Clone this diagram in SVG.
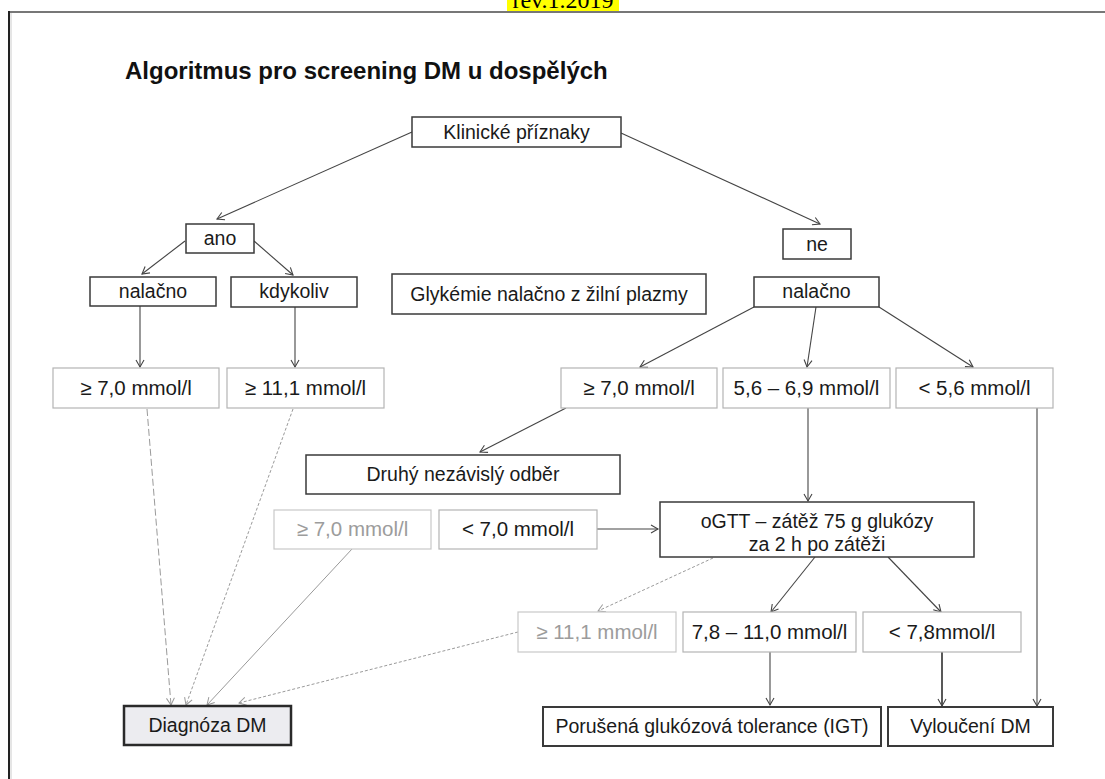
<svg xmlns="http://www.w3.org/2000/svg" width="1105" height="779" viewBox="0 0 1105 779">
<defs>
<style>
text{font-family:"Liberation Sans",Arial,sans-serif;font-size:19.5px;fill:#1a1a1a;text-anchor:middle}
.num{font-size:20.5px}
.faintt{fill:#9c9c9c}
.dark{fill:#fff;stroke:#3a3a3a;stroke-width:1.5}
.light{fill:#fff;stroke:#b4b4b4;stroke-width:1.2}
.faint{fill:#fff;stroke:#c8c8c8;stroke-width:1.2}
.diag{fill:#ececf0;stroke:#2a2a2a;stroke-width:2.5}
.ln{fill:none;stroke:#444;stroke-width:1.1}
.lnd{fill:none;stroke:#222;stroke-width:1.5}
.g1{fill:none;stroke:#9a9a9a;stroke-width:1;stroke-dasharray:7,3}
.g2{fill:none;stroke:#9a9a9a;stroke-width:1;stroke-dasharray:3,2}
.g3{fill:none;stroke:#999;stroke-width:1}
</style>
<marker id="ah" markerWidth="10" markerHeight="10" refX="8" refY="5" orient="auto" markerUnits="userSpaceOnUse">
<path d="M1,1 L8,5 L1,9" fill="none" stroke="#444" stroke-width="1.1"/>
</marker>
<marker id="ahg" markerWidth="10" markerHeight="10" refX="8" refY="5" orient="auto" markerUnits="userSpaceOnUse">
<path d="M1,1 L8,5 L1,9" fill="none" stroke="#9a9a9a" stroke-width="1"/>
</marker>
</defs>
<rect width="1105" height="779" fill="#fff"/>
<g id="frame">
<rect x="507" y="0" width="112" height="11" fill="#ffff00"/>
<text x="563" y="8" style="font-family:'Liberation Serif',serif;font-size:24px;fill:#000">rev.1.2019</text>
<line x1="8" y1="12" x2="1105" y2="12" stroke="#777" stroke-width="2"/>
<line x1="9" y1="11" x2="9" y2="779" stroke="#222" stroke-width="2"/>
<line x1="11" y1="13" x2="11" y2="779" stroke="#ccc" stroke-width="1"/>
</g>
<g id="title"><text x="125" y="79" style="text-anchor:start;font-weight:bold;font-size:24px;fill:#111">Algoritmus pro screening DM u dospělých</text></g>
<g id="connectors">
<line class="ln" x1="412" y1="132" x2="217" y2="219" marker-end="url(#ah)"/>
<line class="ln" x1="621" y1="133" x2="820" y2="224" marker-end="url(#ah)"/>
<line class="ln" x1="185" y1="241" x2="142" y2="274" marker-end="url(#ah)"/>
<line class="ln" x1="254" y1="241" x2="293" y2="275" marker-end="url(#ah)"/>
<line class="ln" x1="140" y1="306" x2="140" y2="367" marker-end="url(#ah)"/>
<line class="ln" x1="295" y1="307" x2="295" y2="367" marker-end="url(#ah)"/>
<line class="ln" x1="754" y1="307" x2="640" y2="367" marker-end="url(#ah)"/>
<line class="ln" x1="816" y1="307" x2="807" y2="367" marker-end="url(#ah)"/>
<line class="ln" x1="879" y1="307" x2="973" y2="367" marker-end="url(#ah)"/>
<line class="ln" x1="566" y1="408" x2="480" y2="452" marker-end="url(#ah)"/>
<line class="ln" x1="808" y1="408" x2="808" y2="501" marker-end="url(#ah)"/>
<line class="ln" x1="597" y1="529" x2="658" y2="529" marker-end="url(#ah)"/>
<line class="ln" x1="815" y1="557" x2="771" y2="612" marker-end="url(#ah)"/>
<line class="ln" x1="888" y1="557" x2="941" y2="612" marker-end="url(#ah)"/>
<line class="ln" x1="770" y1="652" x2="770" y2="705" marker-end="url(#ah)"/>
<line class="lnd" x1="942" y1="652" x2="942" y2="706" marker-end="url(#ah)"/>
<line class="ln" x1="1037" y1="408" x2="1037" y2="706" marker-end="url(#ah)"/>
<line class="g2" x1="713" y1="558" x2="598" y2="611" marker-end="url(#ahg)"/>
<line class="g1" x1="147" y1="409" x2="171" y2="705" marker-end="url(#ahg)"/>
<line class="g2" x1="293" y1="409" x2="186" y2="705" marker-end="url(#ahg)"/>
<line class="g3" x1="352" y1="549" x2="207" y2="705" marker-end="url(#ahg)"/>
<line class="g2" x1="518" y1="632" x2="239" y2="703" marker-end="url(#ahg)"/>
</g>
<g id="n-klinicke"><rect class="dark" x="412" y="117" width="209" height="30"/><text x="516.5" y="139">Klinické příznaky</text></g>
<g id="n-ano"><rect class="dark" x="186" y="224" width="68" height="29"/><text x="220" y="245">ano</text></g>
<g id="n-ne"><rect class="dark" x="783" y="229" width="68" height="30"/><text x="817" y="251">ne</text></g>
<g id="n-nalacno-l"><rect class="dark" x="90" y="277" width="126" height="29"/><text x="153" y="298">nalačno</text></g>
<g id="n-kdykoliv"><rect class="dark" x="231" y="277" width="126" height="30"/><text x="294" y="298">kdykoliv</text></g>
<g id="n-glykemie"><rect class="dark" x="392" y="274" width="314" height="40"/><text x="549" y="301">Glykémie nalačno z žilní plazmy</text></g>
<g id="n-nalacno-r"><rect class="dark" x="754" y="277" width="125" height="30"/><text x="816.5" y="298">nalačno</text></g>
<g id="n-l70"><rect class="light" x="53" y="368" width="166" height="40"/><text class="num" x="136" y="395">≥ 7,0 mmol/l</text></g>
<g id="n-l111"><rect class="light" x="227" y="368" width="157" height="40"/><text class="num" x="305.5" y="395">≥ 11,1 mmol/l</text></g>
<g id="n-r70"><rect class="light" x="561" y="368" width="156" height="40"/><text class="num" x="639" y="395">≥ 7,0 mmol/l</text></g>
<g id="n-5669"><rect class="light" x="723" y="368" width="167" height="40"/><text class="num" x="806.5" y="395">5,6 – 6,9 mmol/l</text></g>
<g id="n-lt56"><rect class="light" x="896" y="368" width="157" height="40"/><text class="num" x="974.5" y="395">&lt; 5,6 mmol/l</text></g>
<g id="n-druhy"><rect class="dark" x="306" y="455" width="314" height="39"/><text x="463" y="481">Druhý nezávislý odběr</text></g>
<g id="n-g70"><rect class="faint" x="274" y="510" width="157" height="39"/><text class="num faintt" x="352.5" y="536">≥ 7,0 mmol/l</text></g>
<g id="n-lt70"><rect class="light" x="439" y="510" width="158" height="39"/><text class="num" x="518" y="536">&lt; 7,0 mmol/l</text></g>
<g id="n-ogtt"><rect class="dark" x="660" y="502" width="314" height="55"/><text x="817" y="528">oGTT – zátěž 75 g glukózy</text><text x="817" y="551">za 2 h po zátěži</text></g>
<g id="n-g111"><rect class="faint" x="518" y="612" width="158" height="40"/><text class="num faintt" x="597" y="639">≥ 11,1 mmol/l</text></g>
<g id="n-7811"><rect class="light" x="683" y="612" width="173" height="40"/><text class="num" x="769.5" y="639">7,8 – 11,0 mmol/l</text></g>
<g id="n-lt78"><rect class="light" x="863" y="612" width="158" height="40"/><text class="num" x="942" y="639">&lt; 7,8mmol/l</text></g>
<g id="n-diagnoza"><rect class="diag" x="124" y="706" width="167" height="39"/><text x="207.5" y="732">Diagnóza DM</text></g>
<g id="n-igt"><rect class="dark" x="543" y="707" width="338" height="39" style="stroke-width:2"/><text x="712" y="733">Porušená glukózová tolerance (IGT)</text></g>
<g id="n-vylouceni"><rect class="dark" x="888" y="707" width="165" height="39" style="stroke-width:2"/><text x="970.5" y="733">Vyloučení DM</text></g>
</svg>
